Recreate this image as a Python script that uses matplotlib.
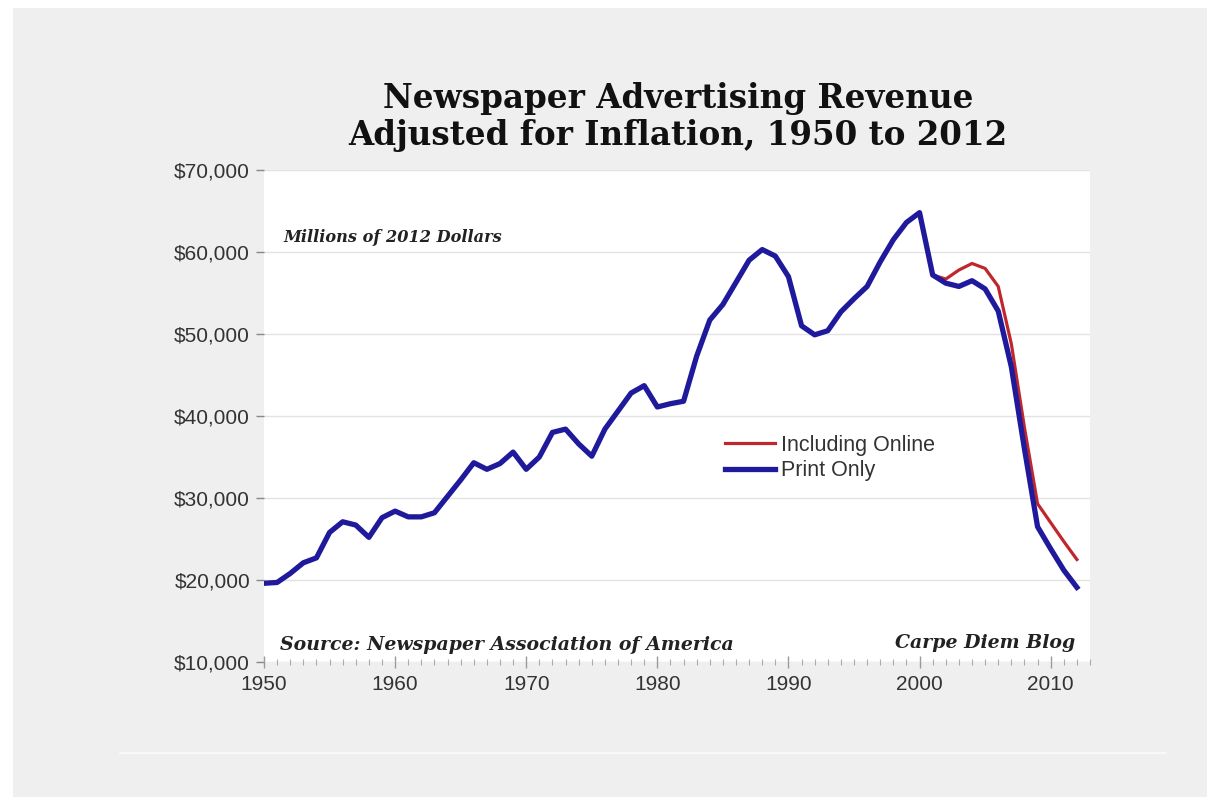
import matplotlib.pyplot as plt
from matplotlib.patches import Rectangle
from matplotlib.lines import Line2D
from matplotlib.ticker import FuncFormatter, MultipleLocator

# years 1950 .. 2012
years = list(range(1950, 2013))

# print only, millions of 2012 dollars
print_only = [
    19600, 19700, 20800, 22100, 22700, 25800, 27100, 26700, 25200, 27600,
    28400, 27700, 27700, 28200, 30200, 32200, 34300, 33500, 34200, 35600,
    33500, 35000, 38000, 38400, 36600, 35100, 38400, 40600, 42800, 43700,
    41100, 41500, 41800, 47300, 51700, 53600, 56300, 59000, 60300, 59500,
    57000, 51000, 49900, 50400, 52700, 54300, 55800, 58800, 61500, 63600,
    64800, 57200, 56200, 55800, 56500, 55500, 52800, 46000, 36000, 26500,
    23800, 21200, 19100,
]

# including online, only differs from 2001 on
online_years = list(range(2001, 2013))
incl_online = [57200, 56700, 57800, 58600, 58000, 55800, 48800, 38600, 29300, 27000, 24700, 22500]

title = "Newspaper Advertising Revenue\nAdjusted for Inflation, 1950 to 2012"

fig = plt.figure(figsize=(12.07, 7.97), dpi=100)
fig.patch.set_facecolor('white')
fig.add_artist(Rectangle((13 / 1207, 0), 1, 1 - 8 / 797, transform=fig.transFigure,
                         facecolor='#efefef', edgecolor='none', zorder=-10))
fig.add_artist(Line2D([120 / 1207, 1166 / 1207], [1 - 753 / 797] * 2, transform=fig.transFigure,
                      color='#fafafa', lw=1.2))

ax = fig.add_axes([264 / 1207, 1 - 662 / 797, (1090 - 264) / 1207, (662 - 170) / 797])
ax.set_facecolor('white')

ax.plot(online_years, incl_online, color='#c0272d', lw=2.3, label='Including Online', zorder=3)
ax.plot(years, print_only, color='#1f1a9c', lw=3.8, label='Print Only', zorder=4,
        solid_joinstyle='round')

ax.set_xlim(1950, 2013)
ax.set_ylim(10000, 70000)

for s in ax.spines.values():
    s.set_visible(False)

ax.yaxis.set_major_locator(MultipleLocator(10000))
ax.yaxis.set_major_formatter(FuncFormatter(lambda v, p: '${:,.0f}'.format(v)))
ax.xaxis.set_major_locator(MultipleLocator(10))
ax.xaxis.set_minor_locator(MultipleLocator(1))
ax.grid(axis='y', color='#e2e2e2', lw=1)
ax.set_axisbelow(True)

ax.tick_params(axis='y', length=6, width=1, color='#888888', labelcolor='#333333',
               labelsize=15, pad=4, labelfontfamily='Liberation Sans')
ax.tick_params(axis='x', which='major', direction='inout', length=9, width=1, color='#999999',
               labelcolor='#333333', labelsize=15, pad=5, labelfontfamily='Liberation Sans')
ax.tick_params(axis='x', which='minor', direction='inout', length=5, width=0.8, color='#aaaaaa')

fig.text(678 / 1207, 1 - 117 / 797, title, ha='center', va='center', fontsize=23.5,
         fontweight='bold', family='DejaVu Serif', color='#111111', linespacing=1.12)

ann = dict(fontweight='bold', style='italic', family='DejaVu Serif', color='#222222')
ax.text(283 / 1207, 1 - 237 / 797, 'Millions of 2012 Dollars', transform=fig.transFigure,
        va='center', ha='left', fontsize=11.6, **ann)
ax.text(280 / 1207, 1 - 645 / 797, 'Source: Newspaper Association of America',
        transform=fig.transFigure, va='center', ha='left', fontsize=13.6, **ann)
ax.text(1075 / 1207, 1 - 643 / 797, 'Carpe Diem Blog', transform=fig.transFigure,
        va='center', ha='right', fontsize=13.6, **ann)

leg = ax.legend(loc='upper left', bbox_to_anchor=((725 - 264) / 826, (662 - 435) / 492),
                frameon=False, handlelength=2.3, handletextpad=0.3, labelspacing=0.2,
                borderaxespad=0, borderpad=0,
                prop={'family': 'Liberation Sans', 'size': 15.5})
for t in leg.get_texts():
    t.set_color('#333333')

fig.savefig('out.png', dpi=100, facecolor=fig.get_facecolor())
